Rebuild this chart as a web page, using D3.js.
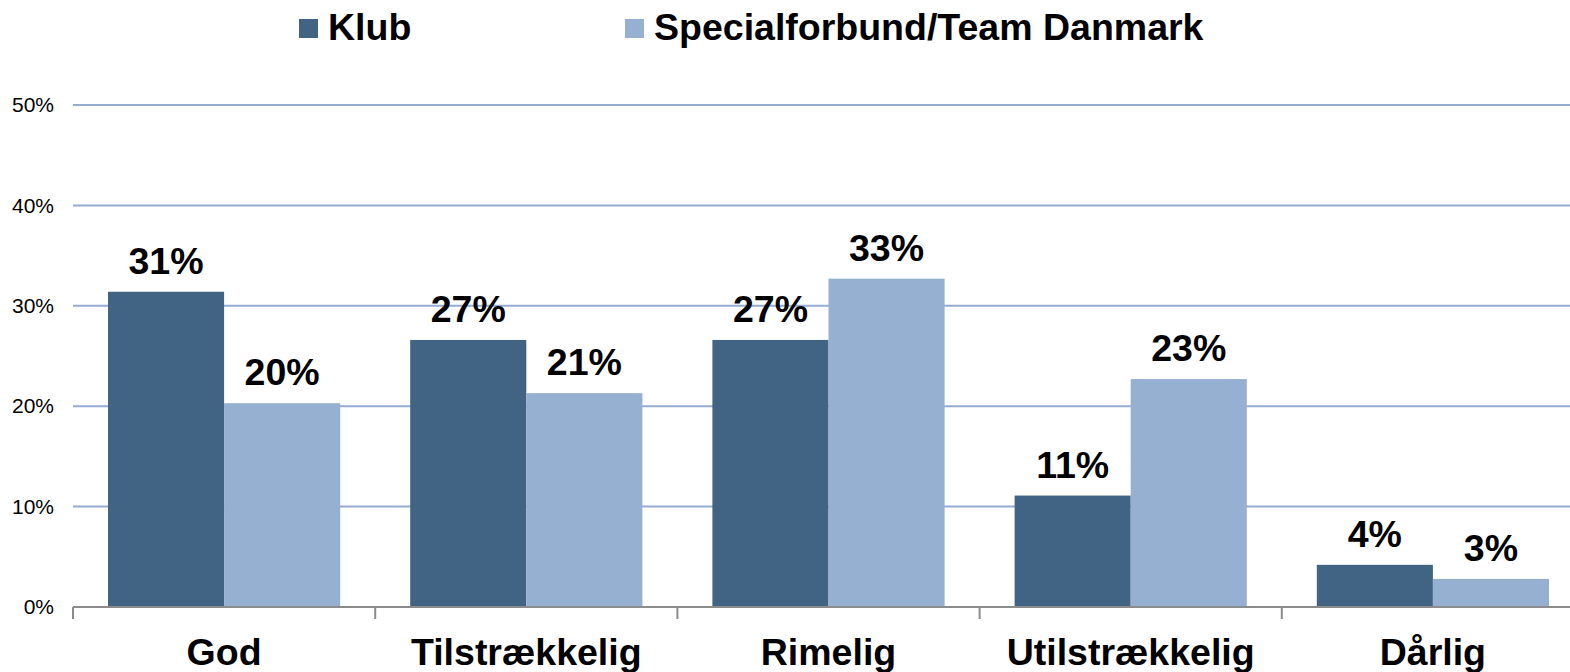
<!DOCTYPE html>
<html>
<head>
<meta charset="utf-8">
<script src="https://cdn.jsdelivr.net/npm/d3@7"></script>
<style>
html,body{margin:0;padding:0;background:#fff;overflow:hidden;}
svg{display:block;font-family:"Liberation Sans",Arial,sans-serif;}
</style>
</head>
<body>
<svg id="chart" width="1570" height="672"></svg>
<script>
const categories = ["God", "Tilstrækkelig", "Rimelig", "Utilstrækkelig", "Dårlig"];
const seriesNames = ["Klub", "Specialforbund/Team Danmark"];
const klub = [0.314, 0.266, 0.266, 0.111, 0.042];
const special = [0.203, 0.213, 0.327, 0.227, 0.028];
const labelsKlub = ["31%", "27%", "27%", "11%", "4%"];
const labelsSpecial = ["20%", "21%", "33%", "23%", "3%"];
const yTicks = [0, 0.1, 0.2, 0.3, 0.4, 0.5];
const yTickLabels = ["0%", "10%", "20%", "30%", "40%", "50%"];
const colors = ["#416384", "#95b0d1"];

const svg = d3.select("#chart");
const W = 1570;
const x0 = 73, xEnd = 1584, y0 = 607, yTop = 105;
const bigFont = 37.5;

const x = d3.scaleBand().domain(categories).range([x0, xEnd]).paddingInner(0).paddingOuter(0);
const xs = d3.scaleBand().domain(seriesNames).range([35, x.bandwidth() - 35]).padding(0);
const y = d3.scaleLinear().domain([0, 0.5]).range([y0, yTop]);

// gridlines
svg.append("g").selectAll("line").data(yTicks.filter(d => d > 0)).join("line")
  .attr("x1", x0).attr("x2", W)
  .attr("y1", d => y(d)).attr("y2", d => y(d))
  .attr("stroke", "#94acd0").attr("stroke-width", 2);

// y axis labels
const yAxis = d3.axisLeft(y).tickValues(yTicks).tickSize(0).tickPadding(19)
  .tickFormat((d, i) => yTickLabels[i]);
const gy = svg.append("g").attr("transform", `translate(${x0},0)`).call(yAxis);
gy.select(".domain").remove();
gy.selectAll("text").attr("font-size", 21).attr("fill", "#000")
  .attr("font-family", "'Liberation Sans',Arial,sans-serif");

// bars
const rows = categories.map((c, i) => ({c, vals: [klub[i], special[i]], labs: [labelsKlub[i], labelsSpecial[i]]}));
const groups = svg.append("g").selectAll("g").data(rows).join("g")
  .attr("transform", d => `translate(${x(d.c)},0)`);
groups.selectAll("rect").data(d => d.vals.map((v, j) => ({v, s: seriesNames[j], j}))).join("rect")
  .attr("x", d => xs(d.s)).attr("width", xs.bandwidth())
  .attr("y", d => y(d.v)).attr("height", d => y0 - y(d.v))
  .attr("fill", d => colors[d.j]);
groups.selectAll("text").data(d => d.vals.map((v, j) => ({v, s: seriesNames[j], lab: d.labs[j]}))).join("text")
  .attr("x", d => xs(d.s) + xs.bandwidth() / 2)
  .attr("y", d => y(d.v) - 18)
  .attr("text-anchor", "middle")
  .attr("font-size", bigFont).attr("font-weight", "bold").attr("fill", "#000")
  .text(d => d.lab);

// x axis
svg.append("line").attr("x1", x0).attr("x2", W).attr("y1", y0).attr("y2", y0)
  .attr("stroke", "#8c8c8c").attr("stroke-width", 2);
svg.append("g").selectAll("line").data(categories).join("line")
  .attr("x1", d => x(d)).attr("x2", d => x(d))
  .attr("y1", y0).attr("y2", y0 + 12)
  .attr("stroke", "#8c8c8c").attr("stroke-width", 2);
svg.append("g").selectAll("text").data(categories).join("text")
  .attr("x", d => x(d) + x.bandwidth() / 2)
  .attr("y", 665)
  .attr("text-anchor", "middle")
  .attr("font-size", bigFont).attr("font-weight", "bold").attr("fill", "#000")
  .text(d => d);

// legend
const legendX = [299, 625];
const lg = svg.append("g").selectAll("g").data(seriesNames).join("g")
  .attr("transform", (d, i) => `translate(${legendX[i]},0)`);
lg.append("rect").attr("x", 0).attr("y", 19).attr("width", 19).attr("height", 19)
  .attr("fill", (d, i) => colors[i]);
lg.append("text").attr("x", 29).attr("y", 40)
  .attr("font-size", bigFont).attr("font-weight", "bold").attr("fill", "#000")
  .text(d => d);
</script>
</body>
</html>
